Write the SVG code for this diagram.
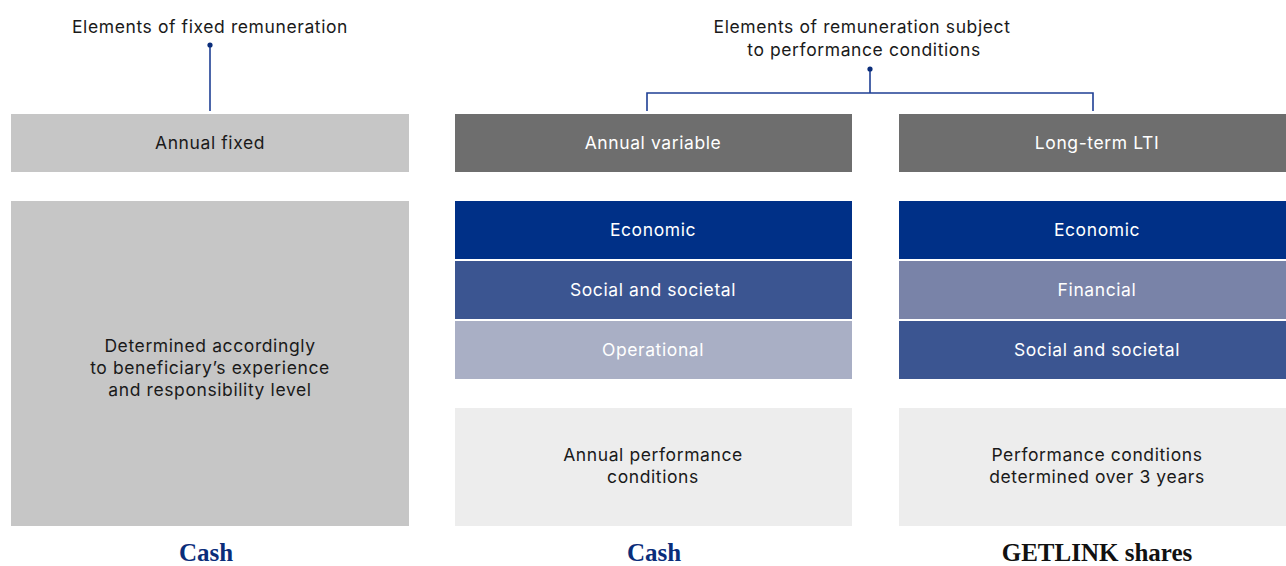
<svg xmlns="http://www.w3.org/2000/svg" width="1286" height="566" viewBox="0 0 1286 566">
  <style>
    .t { font-family: Inter, "Noto Sans", "Liberation Sans", sans-serif; font-size: 17.5px; letter-spacing: 0.6px; text-anchor: middle; }
    .dk { fill: #1a1a1a; }
    .wt { fill: #ffffff; }
    .foot { font-family: "Liberation Serif", "DejaVu Serif", serif; font-size: 25px; font-weight: bold; text-anchor: middle; }
    .link { stroke: #1f3f94; stroke-width: 1.6; fill: none; }
    .dot { fill: #0a2d7a; }
  </style>
  <rect width="1286" height="566" fill="#ffffff"/>

  <!-- headings -->
  <g id="head-fixed">
    <text class="t dk" x="210" y="33">Elements of fixed remuneration</text>
  </g>
  <g id="head-perf">
    <text class="t dk" x="862" y="33">Elements of remuneration subject</text>
    <text class="t dk" x="864" y="56">to performance conditions</text>
  </g>

  <!-- connectors -->
  <g id="connectors">
    <line class="link" x1="210" y1="45" x2="210" y2="111"/>
    <circle class="dot" cx="210" cy="45" r="2.6"/>
    <polyline class="link" points="647,111 647,93 1093,93 1093,111"/>
    <line class="link" x1="870" y1="69" x2="870" y2="93"/>
    <circle class="dot" cx="870" cy="69" r="2.6"/>
  </g>

  <!-- fixed column -->
  <g id="annual-fixed">
    <rect x="11" y="114" width="398" height="58" fill="#c6c6c6"/>
    <text class="t dk" x="210" y="149">Annual fixed</text>
  </g>
  <g id="fixed-detail">
    <rect x="11" y="201" width="398" height="325" fill="#c6c6c6"/>
    <text class="t dk" x="210" y="352">Determined accordingly</text>
    <text class="t dk" x="210" y="374">to beneficiary’s experience</text>
    <text class="t dk" x="210" y="396">and responsibility level</text>
  </g>
  <g id="fixed-cash">
    <text class="foot" x="206" y="561" fill="#0a2d7a">Cash</text>
  </g>

  <!-- annual variable column -->
  <g id="annual-variable">
    <rect x="455" y="114" width="397" height="58" fill="#6e6e6e"/>
    <text class="t wt" x="653" y="149">Annual variable</text>
  </g>
  <g id="av-economic">
    <rect x="455" y="201" width="397" height="58" fill="#003087"/>
    <text class="t wt" x="653" y="236">Economic</text>
  </g>
  <g id="av-social">
    <rect x="455" y="261" width="397" height="58" fill="#3b5591"/>
    <text class="t wt" x="653" y="296">Social and societal</text>
  </g>
  <g id="av-operational">
    <rect x="455" y="321" width="397" height="58" fill="#a9afc5"/>
    <text class="t wt" x="653" y="356">Operational</text>
  </g>
  <g id="av-conditions">
    <rect x="455" y="408" width="397" height="118" fill="#ededed"/>
    <text class="t dk" x="653" y="461">Annual performance</text>
    <text class="t dk" x="653" y="483">conditions</text>
  </g>
  <g id="av-cash">
    <text class="foot" x="654" y="561" fill="#0a2d7a">Cash</text>
  </g>

  <!-- long-term column -->
  <g id="long-term">
    <rect x="899" y="114" width="387" height="58" fill="#6e6e6e"/>
    <text class="t wt" x="1097" y="149">Long-term LTI</text>
  </g>
  <g id="lt-economic">
    <rect x="899" y="201" width="387" height="58" fill="#003087"/>
    <text class="t wt" x="1097" y="236">Economic</text>
  </g>
  <g id="lt-financial">
    <rect x="899" y="261" width="387" height="58" fill="#7983a8"/>
    <text class="t wt" x="1097" y="296">Financial</text>
  </g>
  <g id="lt-social">
    <rect x="899" y="321" width="387" height="58" fill="#3b5591"/>
    <text class="t wt" x="1097" y="356">Social and societal</text>
  </g>
  <g id="lt-conditions">
    <rect x="899" y="408" width="387" height="118" fill="#ededed"/>
    <text class="t dk" x="1097" y="461">Performance conditions</text>
    <text class="t dk" x="1097" y="483">determined over 3 years</text>
  </g>
  <g id="lt-shares">
    <text class="foot" x="1097" y="561" fill="#111111">GETLINK shares</text>
  </g>
</svg>
